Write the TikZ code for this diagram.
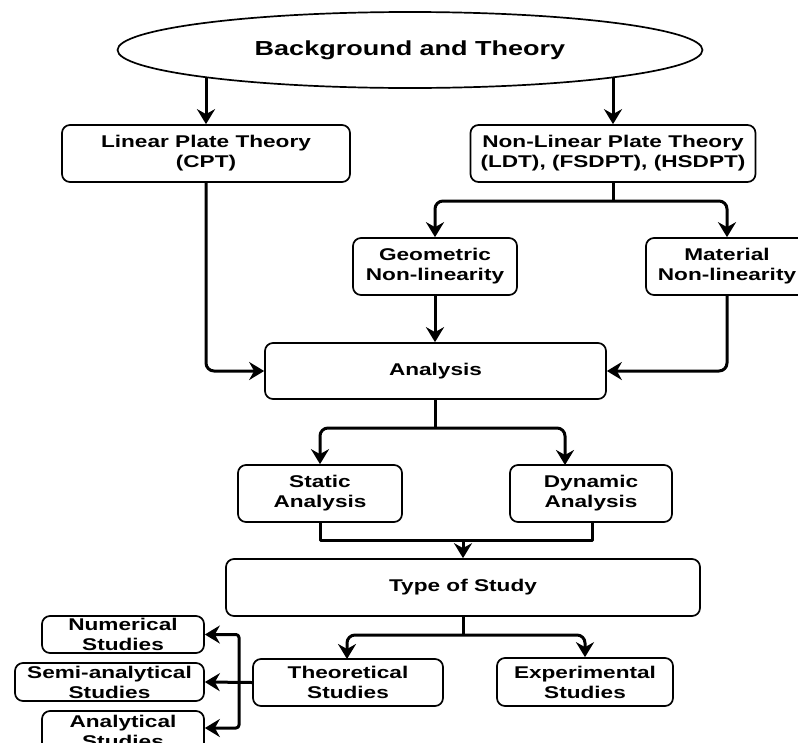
\documentclass[tikz,border=0pt]{standalone}
\usepackage{fontspec}
\setmainfont{Liberation Sans}[FakeStretch=1.33]
\usetikzlibrary{shapes.geometric,arrows.meta,backgrounds,calc}
\tikzset{
  box/.style={draw, line width=1.7pt, rounded corners=8pt, fill=white, inner sep=0pt,
    align=center, font=\fontsize{17}{20}\selectfont\bfseries},
  conn/.style={line width=3pt, line join=round},
  tip/.tip={Stealth[length=15pt,width=18pt,inset=5pt]},
  arr/.style={conn, -tip},
  arrboth/.style={conn, tip-tip},
}
\begin{document}
\begin{tikzpicture}[x=1pt,y=-1pt]
\useasboundingbox (0,0) rectangle (798,742);
\clip (0,0) rectangle (798,742);

\node[draw, ellipse, line width=1.7pt, fill=white, inner sep=0pt, minimum width=585pt, minimum height=76pt,
  font=\fontsize{20.3}{24}\selectfont\bfseries] (bg) at (410,50) {Background and Theory};

\node[box, minimum width=288pt, minimum height=57pt] (lin) at (206,153.5) {Linear Plate Theory\\(CPT)};
\node[box, minimum width=285pt, minimum height=57pt] (nonlin) at (613,153.5) {Non-Linear Plate Theory\\(LDT), (FSDPT), (HSDPT)};
\node[box, minimum width=164pt, minimum height=57pt] (geo) at (435,266.5) {Geometric\\Non-linearity};
\node[box, minimum width=162pt, minimum height=57pt] (mat) at (727,266.5) {Material\\Non-linearity};
\node[box, minimum width=341pt, minimum height=56pt] (ana) at (435.5,371) {Analysis};
\node[box, minimum width=164pt, minimum height=57pt] (stat) at (320,493.5) {Static\\Analysis};
\node[box, minimum width=162pt, minimum height=57pt] (dyn) at (591,493.5) {Dynamic\\Analysis};
\node[box, minimum width=474pt, minimum height=57pt] (type) at (463,587.5) {Type of Study};
\node[box, minimum width=190pt, minimum height=47pt] (theo) at (348,682.5) {Theoretical\\Studies};
\node[box, minimum width=176pt, minimum height=48pt] (exp) at (585,682) {Experimental\\Studies};
\node[box, minimum width=162pt, minimum height=37pt] (num) at (123,634.5) {Numerical\\Studies};
\node[box, minimum width=189pt, minimum height=38pt] (semi) at (109.5,682) {Semi-analytical\\Studies};
\node[box, minimum width=162pt, minimum height=40pt] (analyt) at (123,731) {Analytical\\Studies};

\coordinate (s1) at (613,201);
\coordinate (s2) at (435.5,428);
\coordinate (dynin) at (565,465);
\coordinate (m3) at (463,540);
\coordinate (s4) at (463,635);
\coordinate (theoin) at (347,659);
\coordinate (vtop) at (239,634.5);
\coordinate (vbot) at (239,728);

\begin{scope}[on background layer]
\fill[white] (0,0) rectangle (798,742);
\draw[arr] (lin.north |- bg.center) -- (lin.north);
\draw[arr] (nonlin.north |- bg.center) -- (nonlin.north);
\end{scope}

\draw[conn] (nonlin.south) -- (s1);
\draw[arrboth, rounded corners=8pt] (geo.north) -- (geo.north |- s1) -- (mat.north |- s1) -- (mat.north);
\draw[arr] (geo.south) -- (geo.south |- ana.north);
\draw[arr, rounded corners=8pt] (lin.south) |- (ana.west);
\draw[arr, rounded corners=8pt] (mat.south) |- (ana.east);

\draw[conn] (ana.south) -- (s2);
\draw[arrboth, rounded corners=8pt] (stat.north) -- (stat.north |- s2) -- (s2 -| dynin) -- (dynin);

\draw[conn] (stat.south) |- ($(dyn.south |- m3)+(1,0)$) -- ($(dyn.south)+(1,0)$);
\draw[arr] (m3) -- (type.north);

\draw[conn] (type.south) -- (s4);
\draw[arrboth, rounded corners=8pt] (theoin) -- (theoin |- s4) -- (s4 -| exp.north) -- (exp.north);

\draw[arr] (theo.west) -- (semi.east);
\draw[arrboth, rounded corners=3pt] (num.east) -- (vtop) -- (vbot) -- (analyt.east |- vbot);
\end{tikzpicture}
\end{document}
